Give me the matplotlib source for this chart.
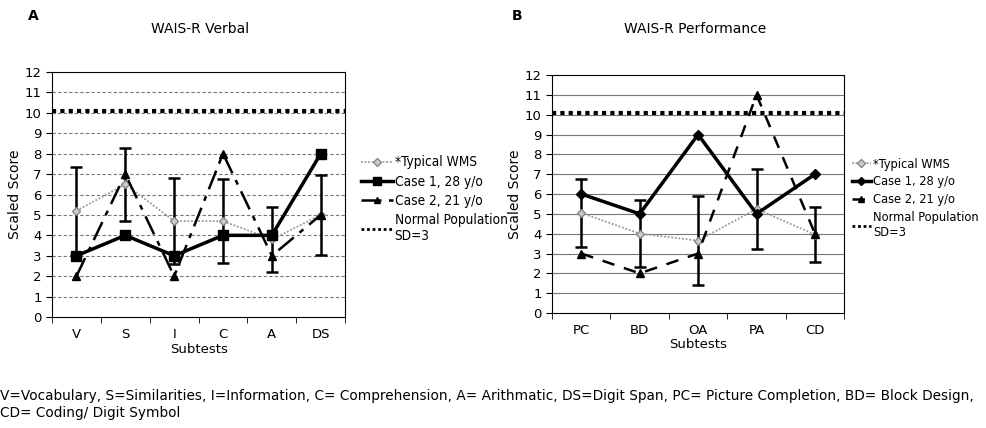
import matplotlib.pyplot as plt
from matplotlib.lines import Line2D
import numpy as np

# panel A - verbal subtests
verbal_tests = ["V", "S", "I", "C", "A", "DS"]
verbal_wms = [5.2, 6.5, 4.7, 4.7, 3.8, 5.0]
verbal_wms_err = [2.15, 1.8, 2.1, 2.05, 1.6, 1.95]
verbal_case1 = [3, 4, 3, 4, 4, 8]
verbal_case2 = [2, 7, 2, 8, 3, 5]

# panel B - performance subtests
perf_tests = ["PC", "BD", "OA", "PA", "CD"]
perf_wms = [5.05, 4.0, 3.65, 5.25, 3.95]
perf_wms_err = [1.7, 1.7, 2.25, 2.0, 1.4]
perf_case1 = [6, 5, 9, 5, 7]
perf_case2 = [3, 2, 3, 11, 4]

normal_mean = 10.1

legend_labels = ["*Typical WMS", "Case 1, 28 y/o", "Case 2, 21 y/o",
                 "Normal Population\nSD=3"]
footnote = ("V=Vocabulary, S=Similarities, I=Information, C= Comprehension, "
            "A= Arithmatic, DS=Digit Span, PC= Picture Completion, BD= Block Design,\n"
            "CD= Coding/ Digit Symbol")

fs = 9.5
plt.rcParams['font.family'] = ['DejaVu Sans']

fig = plt.figure(figsize=(9.87, 4.28), dpi=100)
axA = fig.add_axes([0.0527, 0.2593, 0.297, 0.5725])
axB = fig.add_axes([0.5593, 0.2687, 0.296, 0.556])


def draw(ax, tests, wms, wms_err, case1, case2, c1marker, c1ms, c2dash, gridstyle,
         legpos, hlen, legsize):
    x = np.arange(len(tests))
    ax.set_xlim(-0.5, len(tests) - 0.5)
    ax.set_ylim(0, 12)
    ax.set_yticks(range(0, 13))
    for v in range(1, 12):
        ax.axhline(v, color="#777777", lw=0.8, ls=gridstyle, zorder=0)
    ax.errorbar(x, wms, yerr=wms_err, color="#999999", ls=(0, (1, 1)), lw=1.3,
                marker="D", ms=4, mfc="#cccccc", mec="#888888",
                ecolor="black", elinewidth=1.8, capsize=4, capthick=1.8, zorder=3)
    ax.plot(x, case1, color="black", lw=2.5, marker=c1marker, ms=c1ms, zorder=4)
    ax.plot(x, case2, color="black", lw=1.8, ls=(0, c2dash), marker="^", ms=6, zorder=4)
    ax.axhline(normal_mean, color="black", lw=3, ls=(0, (1, 1)), zorder=2)
    handles = [
        Line2D([], [], color="#999999", ls=(0, (1, 1)), lw=1.3, marker="D", ms=4,
               mfc="#cccccc", mec="#888888"),
        Line2D([], [], color="black", lw=2.5, marker=c1marker, ms=c1ms - 1),
        Line2D([], [], color="black", lw=1.8, ls=(0, c2dash), marker="^", ms=5),
        Line2D([], [], color="black", lw=2, ls=(0, (1, 1))),
    ]
    ax.set_xticks(x)
    ax.set_xticklabels(tests, fontsize=fs)
    ax.set_xticks(np.arange(len(tests) + 1) - 0.5, minor=True)
    ax.tick_params(axis="x", which="major", length=0, pad=8)
    ax.tick_params(axis="x", which="minor", length=4, direction="out")
    ax.tick_params(axis="y", labelsize=fs, length=4, direction="out")
    for s in ax.spines.values():
        s.set_linewidth(0.8)
    ax.set_xlabel("Subtests", fontsize=fs, labelpad=1)
    ax.set_ylabel("Scaled Score", fontsize=fs + 0.5, labelpad=2)
    ax.legend(handles, legend_labels, loc="upper left",
              bbox_to_anchor=legpos, bbox_transform=fig.transFigure,
              frameon=False, prop={"size": legsize, "stretch": "condensed"},
              handlelength=hlen, handletextpad=0.15,
              labelspacing=0.38, borderaxespad=0, borderpad=0)


draw(axA, verbal_tests, verbal_wms, verbal_wms_err, verbal_case1, verbal_case2,
     "s", 7, (8, 3, 2, 3), (0, (3, 2)), (0.366, 0.637), 2.3, 9.8)
draw(axB, perf_tests, perf_wms, perf_wms_err, perf_case1, perf_case2,
     "D", 5, (5, 4), "-", (0.863, 0.632), 1.5, 9.2)

fig.text(0.028, 0.962, "A", fontsize=10, fontweight="bold", va="center")
fig.text(0.203, 0.933, "WAIS-R Verbal", fontsize=fs + 0.5, ha="center", va="center")
fig.text(0.518, 0.962, "B", fontsize=10, fontweight="bold", va="center")
fig.text(0.704, 0.933, "WAIS-R Performance", fontsize=fs + 0.5, ha="center", va="center")
fig.text(0.0, 0.055, footnote, fontsize=9.8, va="center", linespacing=1.3)

fig.savefig("out.png", dpi=100)
